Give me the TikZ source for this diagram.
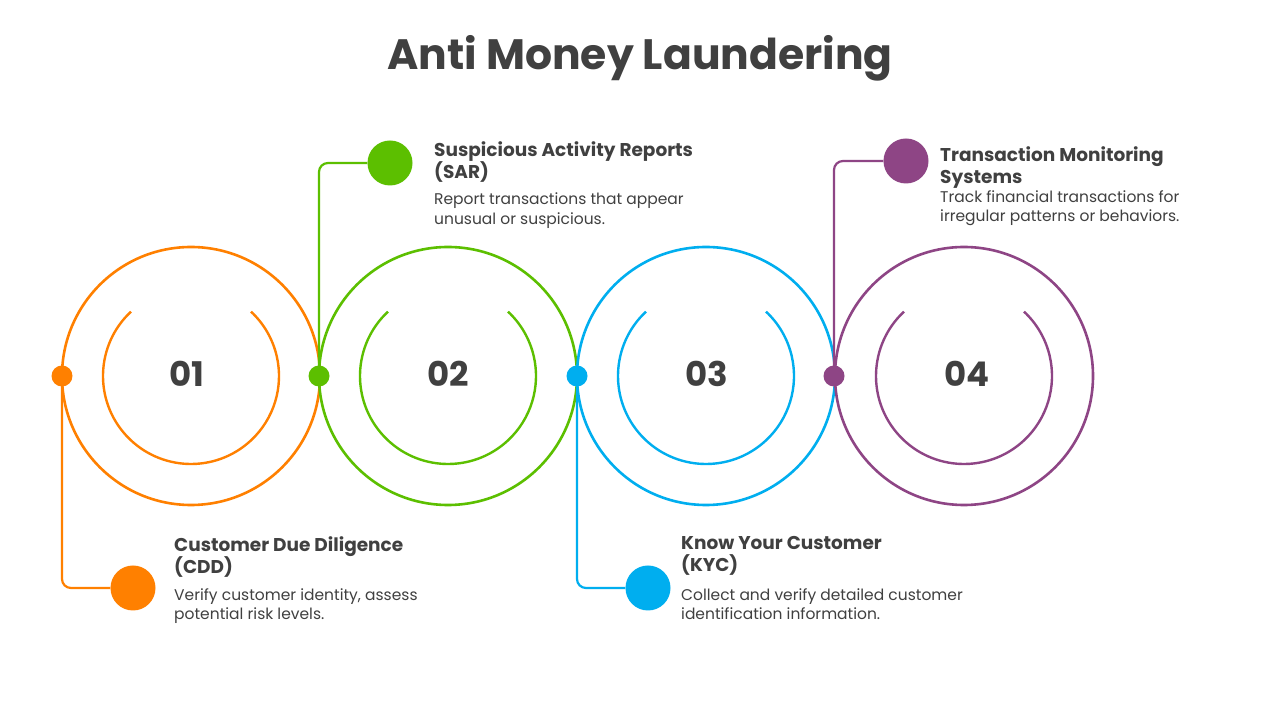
\documentclass[tikz,border=0pt]{standalone}
\usepackage{fontspec}
\setmainfont{Poppins}
\definecolor{cOr}{HTML}{FF8000}
\definecolor{cGr}{HTML}{5CBF00}
\definecolor{cBl}{HTML}{00AEEF}
\definecolor{cPu}{HTML}{8E4585}
\definecolor{txt}{HTML}{404040}
\begin{document}
\begin{tikzpicture}[x=1pt,y=1pt,
  outer/.style={line width=2.6pt},
  inner/.style={line width=2.4pt},
  sdot/.style={circle,inner sep=0pt,minimum size=21pt},
  bdot/.style={circle,inner sep=0pt,minimum size=45pt},
  conn/.style={line width=2.2pt,rounded corners=9pt},
  num/.style={font=\fontsize{34}{36}\selectfont\bfseries,text=txt},
  head/.style={anchor=north west,align=left,font=\fontsize{18.5}{22}\selectfont\bfseries,text=txt,inner sep=0pt},
  body/.style={anchor=north west,align=left,font=\fontsize{15.5}{19.5}\selectfont,text=txt,inner sep=0pt}]
\useasboundingbox[fill=white] (0,0) rectangle (1280,720);
\node[font=\fontsize{42.5}{46}\selectfont\bfseries,text=txt] (title) at (640,662) {Anti Money Laundering};
% circles
\foreach \x/\c/\n [count=\i] in {191/cOr/01,448/cGr/02,706/cBl/03,964/cPu/04}{
  \draw[outer,\c] (\x,344) circle (129);
  \draw[inner,\c] ([shift={(133:88)}]\x,344) arc (133:407:88);
}
\node[num] (n1) at (187,346) {01};
\node[num] (n2) at (448,346) {02};
\node[num] (n3) at (707,346) {03};
\node[num] (n4) at (967,346) {04};
\node[sdot,fill=cOr] (d1) at (62,344) {};
\node[sdot,fill=cGr] (d2) at (319,344) {};
\node[sdot,fill=cBl] (d3) at (577,344) {};
\node[sdot,fill=cPu] (d4) at (834,344) {};
\node[bdot,fill=cOr] (b1) at (133,132) {};
\node[bdot,fill=cGr] (b2) at (390,557) {};
\node[bdot,fill=cBl] (b3) at (648,132) {};
\node[bdot,fill=cPu] (b4) at (906,559) {};
\draw[conn,cOr] (d1.center) |- (b1);
\draw[conn,cGr] (d2.center) |- (b2);
\draw[conn,cBl] (d3.center) |- (b3);
\draw[conn,cPu] (d4.center) |- (b4);
% texts
\node[head] (h2) at (434,579) {Suspicious Activity Reports\\(SAR)};
\node[body] (t2) at (434,527) {Report transactions that appear\\unusual or suspicious.};
\node[head] (h4) at (940,574) {Transaction Monitoring\\Systems};
\node[body] (t4) at (940,530) {Track financial transactions for\\irregular patterns or behaviors.};
\node[head] (h1) at (174,184) {Customer Due Diligence\\(CDD)};
\node[body] (t1) at (174,132) {Verify customer identity, assess\\potential risk levels.};
\node[head] (h3) at (681,184) {Know Your Customer\\(KYC)};
\node[body] (t3) at (681,132) {Collect and verify detailed customer\\identification information.};
\end{tikzpicture}
\end{document}
